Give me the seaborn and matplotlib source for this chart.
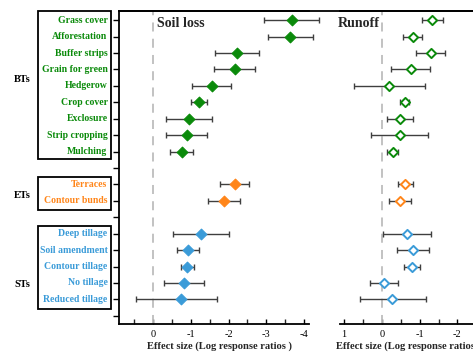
import numpy as np
import pandas as pd
import matplotlib
matplotlib.use("Agg")
import matplotlib.pyplot as plt
import matplotlib.transforms as mtransforms
from matplotlib.patches import Rectangle
from matplotlib.lines import Line2D
from matplotlib.ticker import MultipleLocator, FixedLocator
import seaborn as sns

# ---------------- data ----------------
bt_names = ["Grass cover", "Afforestation", "Buffer strips", "Grain for green", "Hedgerow",
            "Crop cover", "Exclosure", "Strip cropping", "Mulching"]
et_names = ["Terraces", "Contour bunds"]
st_names = ["Deep tillage", "Soil amendment", "Contour tillage", "No tillage", "Reduced tillage"]

# Soil loss effect size (lnRR) with lower/upper CI
bt_soil = [-3.67, -3.63, -2.23, -2.16, -1.56, -1.22, -0.95, -0.90, -0.76]
bt_soil_lo = [-2.95, -3.03, -1.65, -1.62, -1.05, -1.01, -0.33, -0.36, -0.46]
bt_soil_hi = [-4.40, -4.22, -2.83, -2.70, -2.08, -1.43, -1.56, -1.46, -1.06]
et_soil = [-2.16, -1.89]
et_soil_lo = [-1.78, -1.48]
et_soil_hi = [-2.54, -2.33]
st_soil = [-1.28, -0.92, -0.90, -0.83, -0.75]
st_soil_lo = [-0.54, -0.61, -0.71, -0.30, 0.20]
st_soil_hi = [-2.03, -1.21, -1.07, -1.36, -1.95]

# Runoff effect size (lnRR) with lower/upper CI
bt_run = [-1.34, -0.82, -1.30, -0.76, -0.20, -0.62, -0.49, -0.48, -0.29]
bt_run_lo = [-1.07, -0.58, -0.93, -0.25, 0.73, -0.52, -0.16, 0.27, -0.16]
bt_run_hi = [-1.62, -1.08, -1.70, -1.29, -1.13, -0.75, -0.84, -1.26, -0.44]
et_run = [-0.62, -0.47]
et_run_lo = [-0.42, -0.16]
et_run_hi = [-0.82, -0.75]
st_run = [-0.66, -0.82, -0.80, -0.05, -0.28]
st_run_lo = [-0.03, -0.40, -0.59, 0.33, 0.60]
st_run_hi = [-1.28, -1.24, -1.02, -0.42, -1.13]

group_names = ["BTs", "ETs", "STs"]
group_colors = ["#0A8A0A", "#FF8519", "#3A9BD8"]
soil_ticks = [0, -1, -2, -3, -4]
run_ticks = [1, 0, -1, -2]

# ---------------- build table ----------------
groups = [
    (bt_names, bt_soil, bt_soil_lo, bt_soil_hi, bt_run, bt_run_lo, bt_run_hi),
    (et_names, et_soil, et_soil_lo, et_soil_hi, et_run, et_run_lo, et_run_hi),
    (st_names, st_soil, st_soil_lo, st_soil_hi, st_run, st_run_lo, st_run_hi),
]
records = []
row = 0
group_rows = []
for gi, (names, s, slo, shi, r, rlo, rhi) in enumerate(groups):
    rows_here = []
    for k, n in enumerate(names):
        records.append(dict(name=n, group=group_names[gi], pos=row,
                            soil=s[k], soil_lo=slo[k], soil_hi=shi[k],
                            run=r[k], run_lo=rlo[k], run_hi=rhi[k]))
        rows_here.append(row)
        row += 1
    group_rows.append(rows_here)
    row += 1  # blank row between groups
df = pd.DataFrame(records)
n_rows = row - 1

# ---------------- style ----------------
sns.set_theme(style="ticks")
plt.rcParams["font.family"] = ["Liberation Serif", "DejaVu Serif"]
plt.rcParams["axes.unicode_minus"] = False

W, H = 473, 352
fig = plt.figure(figsize=(W / 100, H / 100), dpi=100)

def fx(px):
    return px / W

def fy(py):
    return 1 - py / H

top_px, bot_px = 11, 324
axL = fig.add_axes([fx(119), fy(bot_px), fx(309) - fx(119), fy(top_px) - fy(bot_px)])
axR = fig.add_axes([fx(340), fy(bot_px), 1.0 - fx(340), fy(top_px) - fy(bot_px)])

ylim = (n_rows + 0.5, -0.56)
err_color = "#3F3F3F"
palette = dict(zip(group_names, group_colors))

for ax, col, lo, hi, filled in [(axL, "soil", "soil_lo", "soil_hi", True),
                                (axR, "run", "run_lo", "run_hi", False)]:
    ax.axvline(0, color="#BDBDBD", lw=1.3, ls=(0, (5, 4)), zorder=1)
    xerr = np.vstack([np.abs(df[col] - df[lo]), np.abs(df[hi] - df[col])])
    ax.errorbar(df[col], df["pos"], xerr=xerr, fmt="none", ecolor=err_color,
                elinewidth=1.0, capsize=2.2, capthick=1.0, zorder=2, clip_on=False)
    for g, c in palette.items():
        sub = df[df["group"] == g]
        if filled:
            sns.scatterplot(data=sub, x=col, y="pos", ax=ax, marker="D", s=30,
                            color=c, edgecolor=c, linewidth=0.8, zorder=3, legend=False)
        else:
            sns.scatterplot(data=sub, x=col, y="pos", ax=ax, marker="D", s=22,
                            color="white", edgecolor=c, linewidth=1.4, zorder=3, legend=False)
    ax.set_ylim(*ylim)
    ax.set_ylabel("")
    ax.set_xlabel("Effect size (Log response ratios )", fontsize=7.6, fontweight="bold")
    for sp in ax.spines.values():
        sp.set_linewidth(1.3)
        sp.set_color("black")
    ax.tick_params(axis="x", direction="in", length=3.5, width=1.0, labelsize=7.5,
                   pad=4, colors="black")
    ax.tick_params(axis="x", which="minor", direction="in", length=3.5, width=1.0)

axL.set_xlim(0.9, -4.13)
axL.xaxis.set_major_locator(FixedLocator(soil_ticks))
axL.xaxis.set_minor_locator(MultipleLocator(0.5))
axL.set_xticklabels([str(t) for t in soil_ticks])
axL.set_yticks(np.arange(0, n_rows + 1))
axL.set_yticklabels([])
axL.tick_params(axis="y", direction="out", length=4, width=1.0, colors="black")
axL.spines["right"].set_visible(False)
axL.xaxis.set_label_coords(0.53, -0.055)

axR.set_xlim(1.11, 1.11 - 133 / 37.75)
axR.xaxis.set_major_locator(FixedLocator(run_ticks))
axR.xaxis.set_minor_locator(MultipleLocator(0.5))
axR.set_xticklabels([str(t) for t in run_ticks])
axR.set_yticks([])
axR.spines["left"].set_visible(False)
axR.spines["right"].set_visible(False)
axR.xaxis.set_label_coords(0.513, -0.055)

# top border bridging both panels
fig.add_artist(Line2D([fx(119), 1.0], [fy(top_px), fy(top_px)], color="black", lw=1.3))

fig.text(fx(157), fy(23.5), "Soil loss", fontsize=10.1, fontweight="bold",
         ha="left", va="center")
fig.text(fx(379.5), fy(23.5), "Runoff", fontsize=10.1, fontweight="bold",
         ha="right", va="center")

# category labels and boxes
trans = mtransforms.blended_transform_factory(fig.transFigure, axL.transData)
box_pad = [(-0.56, 0.45), (-0.47, 0.58), (-0.46, 0.58)]
group_label_y = [3.6, 10.7, 16.1]
for gi, rows_here in enumerate(group_rows):
    c = group_colors[gi]
    for rpos in rows_here:
        name = df.loc[df["pos"] == rpos, "name"].iloc[0]
        axL.text(fx(107.5), rpos, name, transform=trans, ha="right", va="center",
                 fontsize=7.0, fontweight="bold", color=c, clip_on=False)
    y0 = rows_here[0] + box_pad[gi][0]
    y1 = rows_here[-1] + box_pad[gi][1]
    rect = Rectangle((fx(38), y0), fx(111) - fx(38), y1 - y0, transform=trans,
                     fill=False, edgecolor="black", lw=1.3, clip_on=False)
    axL.add_patch(rect)
    axL.text(fx(22), group_label_y[gi], group_names[gi], transform=trans, ha="center",
             va="center", fontsize=7.5, fontweight="bold", color="black", clip_on=False)

fig.savefig("out.png", dpi=100)
